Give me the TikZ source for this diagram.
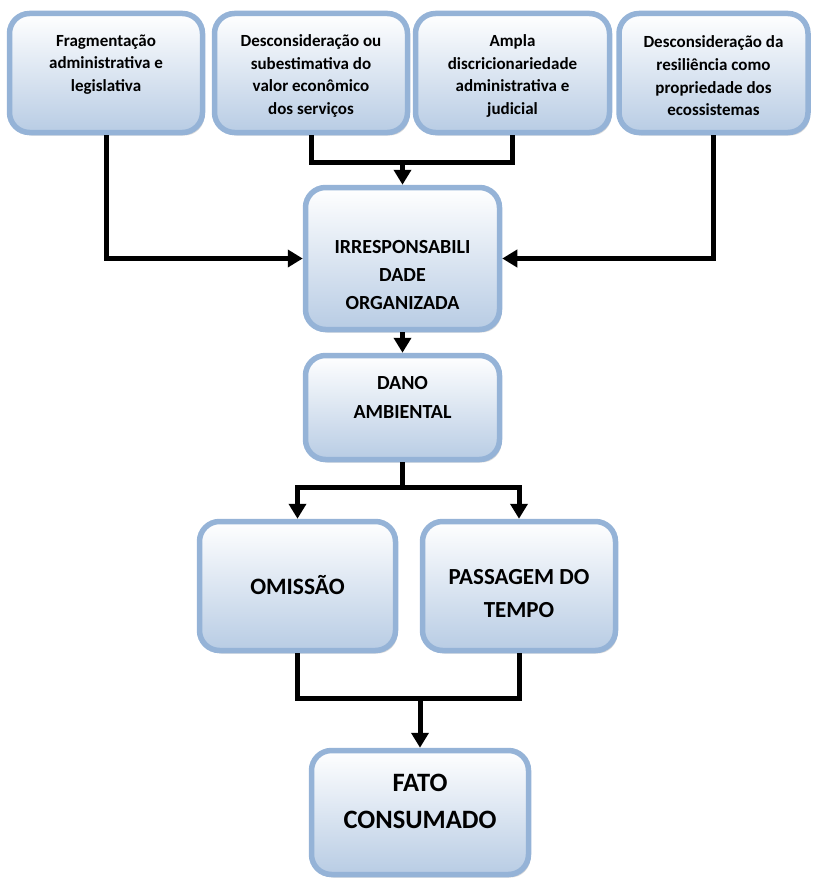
\documentclass[tikz,border=0pt]{standalone}
\usepackage{fontspec}
\setmainfont{Carlito}
\usetikzlibrary{arrows.meta,shadows}
\definecolor{bordc}{HTML}{95B3D7}
\definecolor{botc}{HTML}{B8CCE4}
\begin{document}
\begin{tikzpicture}[x=1pt,y=-1pt,
  box/.style={draw=bordc, line width=5.5pt, rounded corners=20pt, top color=white, bottom color=botc,
    drop shadow={shadow xshift=2pt, shadow yshift=-3pt, fill=gray!60}, inner sep=0pt},
  conn/.style={line width=5pt, draw=black},
  arr/.style={conn, -{Triangle[width=17pt,length=15pt]}},
  txt/.style={align=center, inner sep=0pt, text=black}
]
\useasboundingbox (0,0) rectangle (812,880);
% boxes
\node[box, minimum width=193pt, minimum height=119pt] (b1) at (106,73) {};
\node[box, minimum width=193pt, minimum height=119pt] (b2) at (311,73) {};
\node[box, minimum width=194pt, minimum height=119pt] (b3) at (512.5,73) {};
\node[box, minimum width=189pt, minimum height=119pt] (b4) at (713.5,73) {};
\node[box, minimum width=194pt, minimum height=142pt] (irr) at (402.5,258.5) {};
\node[box, minimum width=194pt, minimum height=104pt] (dano) at (402.5,407.5) {};
\node[box, minimum width=196pt, minimum height=129pt] (om) at (297.5,586) {};
\node[box, minimum width=193pt, minimum height=129pt] (pas) at (519,586) {};
\node[box, minimum width=217pt, minimum height=124pt] (fato) at (420,812.5) {};
% texts
\begin{scope}[every node/.style={txt, font={\bfseries\fontsize{17}{22.7}\selectfont}}]
\node (t1) at (106,64.5) {Fragmentação\\administrativa e\\legislativa};
\node (t2) at (311,76) {Desconsideração ou\\subestimativa do\\valor econômico\\dos serviços};
\node (t3) at (512.5,76) {Ampla\\discricionariedade\\administrativa e\\judicial};
\node (t4) at (713.5,76) {Desconsideração da\\resiliência como\\propriedade dos\\ecossistemas};
\end{scope}
\node[txt, font={\bfseries\fontsize{20}{28}\selectfont}] (t5) at (402.5,275) {IRRESPONSABILI\\DADE\\ORGANIZADA};
\node[txt, font={\bfseries\fontsize{20}{29}\selectfont}] (t6) at (402.5,397.5) {DANO\\AMBIENTAL};
\node[txt, font={\bfseries\fontsize{23.5}{33}\selectfont}] (t7) at (297.5,585) {OMISSÃO};
\node[txt, font={\bfseries\fontsize{23}{33}\selectfont}] (t8) at (519,593.5) {PASSAGEM DO\\TEMPO};
\node[txt, font={\bfseries\fontsize{26.5}{37}\selectfont}] (t9) at (420,801.5) {FATO\\CONSUMADO};
% connectors
\coordinate (j1) at (402.5,162);
\coordinate (j2) at (402.5,487);
\coordinate (j3) at (420,698);
\draw[arr] (b1.south) |- (irr.west);
\draw[arr] (b4.south) |- (irr.east);
\draw[conn] (b2.south) |- (j1) -| (b3.south);
\draw[arr] (j1) -- (irr.north);
\draw[arr] (irr.south) -- (dano.north);
\draw[conn] (dano.south) -- (j2);
\draw[arr] (j2) -| (om.north);
\draw[arr] (j2) -| (pas.north);
\draw[conn] (om.south) |- (j3) -| (pas.south);
\draw[arr] (j3) -- (fato.north);
\end{tikzpicture}
\end{document}
